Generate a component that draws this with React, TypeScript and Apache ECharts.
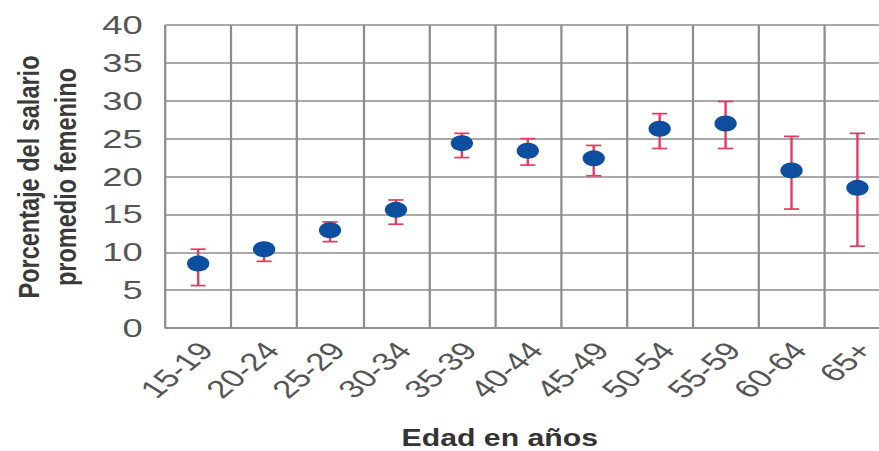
import React, { useEffect, useRef } from "react";
import * as echarts from "echarts";

// Age groups and the estimated share of the average female wage (%), with confidence limits
const categories = ["15-19", "20-24", "25-29", "30-34", "35-39", "40-44", "45-49", "50-54", "55-59", "60-64", "65+"];
const means = [8.5, 10.4, 12.9, 15.6, 24.4, 23.4, 22.4, 26.3, 27.0, 20.8, 18.5];
const lower = [5.6, 8.8, 11.4, 13.7, 22.5, 21.5, 20.1, 23.7, 23.7, 15.7, 10.8];
const upper = [10.4, 11.0, 14.0, 16.9, 25.7, 25.0, 24.1, 28.3, 29.9, 25.3, 25.7];
const yTicks = { min: 0, max: 40, interval: 5 };

const yTitle = "Porcentaje del salario\npromedio femenino";
const xTitle = "Edad en años";

// The figure is laid out on a narrower canvas and stretched horizontally
const STRETCH = 1.4;
const BASE_W = 645;
const H = 451;

const GRID = "#8c8c8c";
const DOT = "#0d4f9e";
const BAR = "#e8385f";

export default function App() {
  const ref = useRef<HTMLDivElement>(null);

  useEffect(() => {
    if (!ref.current) return;
    const chart = echarts.init(ref.current, undefined, { renderer: "svg" });

    const errData = categories.map((_, i) => [i, upper[i], lower[i]]);
    const dotData = categories.map((_, i) => [i, means[i]]);

    chart.setOption({
      animation: false,
      grid: { left: 118, right: 9, top: 25, bottom: 123 },
      xAxis: {
        type: "category",
        data: categories,
        axisTick: { show: false },
        axisLine: { show: true, lineStyle: { color: GRID, width: 1.6 } },
        splitLine: { show: true, interval: 0, lineStyle: { color: GRID, width: 1.6 } },
        axisLabel: {
          interval: 0,
          rotate: 49,
          margin: 13,
          fontSize: 25,
          verticalAlign: "top",
          lineHeight: 14,
          color: "#555",
          fontFamily: "Liberation Sans, Arial, sans-serif",
        },
      },
      yAxis: {
        type: "value",
        min: yTicks.min,
        max: yTicks.max,
        interval: yTicks.interval,
        axisLine: { show: false },
        axisTick: { show: false },
        splitLine: { show: true, lineStyle: { color: GRID, width: 1.6 } },
        axisLabel: {
          margin: 16,
          fontSize: 26,
          color: "#555",
          fontFamily: "Liberation Sans, Arial, sans-serif",
        },
      },
      graphic: [
        {
          type: "text",
          x: 34,
          y: 177,
          rotation: Math.PI / 2,
          scaleX: 1.12,
          style: {
            text: yTitle,
            x: 0,
            y: 0,
            align: "center",
            verticalAlign: "middle",
            font: "bold 21px 'Liberation Sans', Arial, sans-serif",
            lineHeight: 27,
            fill: "#3a3a3a",
          },
        },
        {
          type: "text",
          x: 357,
          y: 438,
          scaleX: 0.9,
          style: {
            text: xTitle,
            x: 0,
            y: 0,
            align: "center",
            verticalAlign: "middle",
            font: "bold 24px 'Liberation Sans', Arial, sans-serif",
            fill: "#333",
          },
        },
      ],
      series: [
        {
          type: "custom",
          z: 2,
          data: errData,
          renderItem: (_params: any, api: any) => {
            const top = api.coord([api.value(0), api.value(1)]);
            const bot = api.coord([api.value(0), api.value(2)]);
            const half = 5.4;
            const style = { stroke: BAR, lineWidth: 1.7 };
            return {
              type: "group",
              children: [
                { type: "line", shape: { x1: top[0], y1: top[1], x2: bot[0], y2: bot[1] }, style },
                { type: "line", shape: { x1: top[0] - half, y1: top[1], x2: top[0] + half, y2: top[1] }, style },
                { type: "line", shape: { x1: bot[0] - half, y1: bot[1], x2: bot[0] + half, y2: bot[1] }, style },
              ],
            };
          },
        },
        {
          type: "scatter",
          z: 3,
          data: dotData,
          symbol: "circle",
          symbolSize: 16,
          itemStyle: { color: DOT, opacity: 1 },
        },
      ],
    });

    return () => chart.dispose();
  }, []);

  return (
    <div
      style={{
        position: "fixed",
        left: 0,
        top: 0,
        width: 879,
        height: H,
        overflow: "hidden",
        background: "#fff",
      }}
    >
      <div
        ref={ref}
        style={{
          width: BASE_W,
          height: H,
          transform: `scaleX(${STRETCH})`,
          transformOrigin: "0 0",
        }}
      />
    </div>
  );
}
